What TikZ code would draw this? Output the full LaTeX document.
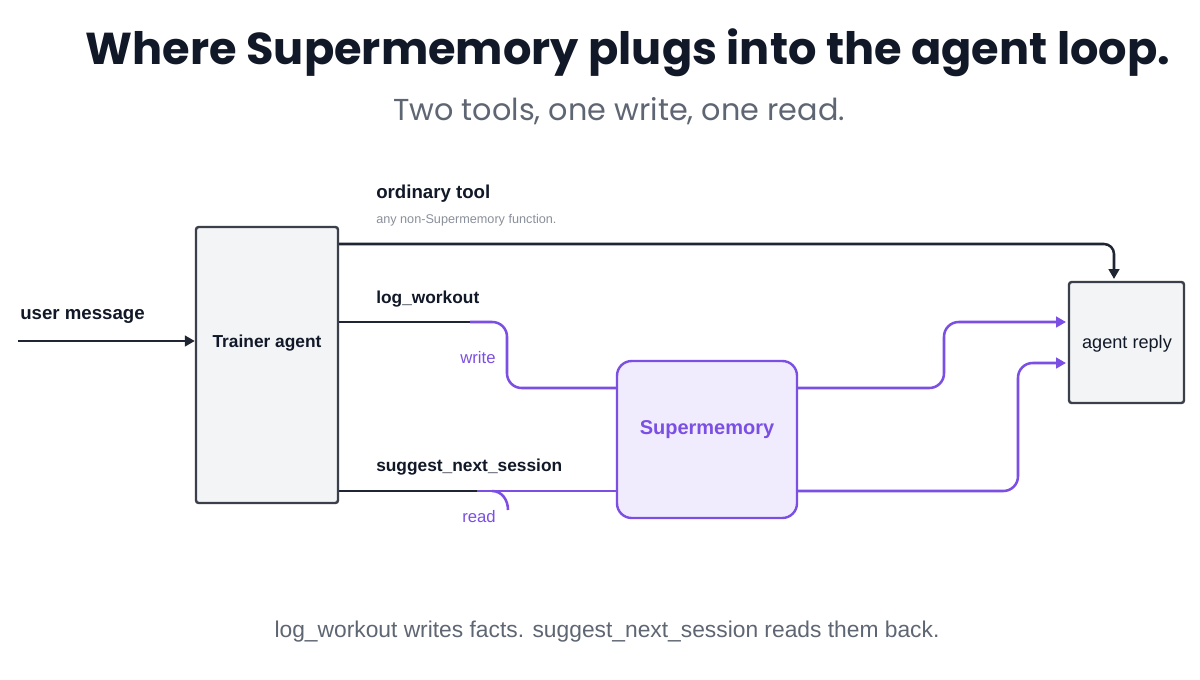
\documentclass[tikz,border=0pt]{standalone}
\usepackage{fontspec}
\setmainfont{Liberation Sans}
\newfontfamily\titlefont{Poppins}
\usetikzlibrary{arrows.meta,fit}
\definecolor{ink}{HTML}{111827}
\definecolor{line}{HTML}{1F2533}
\definecolor{boxfill}{HTML}{F3F4F6}
\definecolor{boxdraw}{HTML}{3A3F4A}
\definecolor{purp}{HTML}{7B4FE3}
\definecolor{purpfill}{HTML}{F1ECFD}
\definecolor{greytext}{HTML}{5F6673}
\definecolor{lightgrey}{HTML}{8A909B}
\tikzset{
  graybox/.style={draw=boxdraw, fill=boxfill, line width=1.8pt, rounded corners=2pt, inner sep=0pt},
  smbox/.style={draw=purp, fill=purpfill, line width=1.8pt, rounded corners=11pt, inner sep=0pt},
  darkline/.style={draw=line, line width=1.9pt},
  purpline/.style={draw=purp, line width=1.9pt},
  tip/.style={-{Triangle[length=7.5pt,width=8pt]}},
  lbl/.style={font=\fontsize{13}{15}\selectfont\bfseries, text=ink, inner sep=0pt},
  biglbl/.style={font=\fontsize{14}{16}\selectfont\bfseries, text=ink, inner sep=0pt},
  plbl/.style={font=\fontsize{12.5}{15}\selectfont, text=purp, inner sep=0pt},
}
\begin{document}
\begin{tikzpicture}[x=0.75pt,y=-0.75pt]
\useasboundingbox (0,0) rectangle (1200,679);
\fill[white] (0,0) rectangle (1200,679);
% title
\node[font=\titlefont\fontsize{33.5}{40}\selectfont\bfseries, text=ink, inner sep=0pt] (title) at (628,53) {Where Supermemory plugs into the agent loop.};
\node[font=\titlefont\fontsize{22.7}{26}\selectfont, text=greytext, inner sep=0pt] (subtitle) at (619,111) {Two tools, one write, one read.};
% boxes
\node[graybox, fit={(196,227) (338,503)}] (trainer) {};
\node[lbl] (trainerlbl) at (267,343) {Trainer agent};
\node[graybox, fit={(1069,282) (1184,403)}] (reply) {};
\node[lbl, font=\fontsize{13.6}{16}\selectfont] (replylbl) at (1127,344) {agent reply};
\node[smbox, fit={(617,361) (797,518)}] (sm) {};
\node[font=\fontsize{15}{18}\selectfont\bfseries, text=purp, inner sep=0pt] (smlbl) at (707,430) {Supermemory};
% labels
\node[biglbl, anchor=west] (userlbl) at (20,316) {user message};
\node[biglbl, anchor=west] (ordlbl) at (376,194) {ordinary tool};
\node[font=\fontsize{9.5}{11}\selectfont, text=lightgrey, anchor=west, inner sep=0pt] (ordsub) at (376,220) {any non-Supermemory function.};
\node[lbl, anchor=west] (loglbl) at (376,299) {log\_workout};
\node[lbl, anchor=west] (sugglbl) at (376,467) {suggest\_next\_session};
\node[plbl] (writelbl) at (478,358) {write};
\node[plbl] (readlbl) at (479,517) {read};
\node[font=\fontsize{17.1}{20}\selectfont, text=greytext, inner sep=0pt] (foot) at (607,632) {log\_workout writes facts. suggest\_next\_session reads them back.};
% coordinates
\coordinate (umstart) at (18,341);
\coordinate (ordA) at (trainer.east |- 0,244);
\coordinate (ordB) at (1114,244);
\coordinate (ordC) at (1114,279);
\coordinate (logA) at (trainer.east |- 0,322);
\coordinate (logB) at (470,322);
\coordinate (logC) at (507,322);
\coordinate (logD) at (507,388);
\coordinate (logE) at (sm.west |- 0,388);
\coordinate (sugA) at (trainer.east |- 0,491);
\coordinate (sugB) at (477,491);
\coordinate (sugC) at (sm.west |- 0,491);
\coordinate (hookA) at (492,491);
\coordinate (hookB) at (508,510);
\coordinate (outA) at (sm.east |- 0,388);
\coordinate (outB) at (944,388);
\coordinate (outC) at (944,322);
\coordinate (outD) at (1066,322);
\coordinate (out2A) at (sm.east |- 0,491);
\coordinate (out2B) at (1018,491);
\coordinate (out2C) at (1018,363);
\coordinate (out2D) at (1066,363);
% connectors
\draw[darkline, tip] (umstart) -- (trainer.west |- umstart);
\draw[darkline, tip, rounded corners=7.5pt] (ordA) -- (ordB) -- (ordC);
\draw[darkline] (logA) -- (logB);
\draw[purpline, rounded corners=11pt] (logB) -- (logC) -- (logD) -- (logE);
\draw[darkline] (sugA) -- (sugB);
\draw[purpline] (sugB) -- (sugC);
\draw[purpline] (hookA) .. controls (502,491) and (508,500) .. (hookB);
\draw[purpline, tip, rounded corners=11pt] (outA) -- (outB) -- (outC) -- (outD);
\draw[purpline, tip, rounded corners=11pt] (out2A) -- (out2B) -- (out2C) -- (out2D);
\end{tikzpicture}
\end{document}
